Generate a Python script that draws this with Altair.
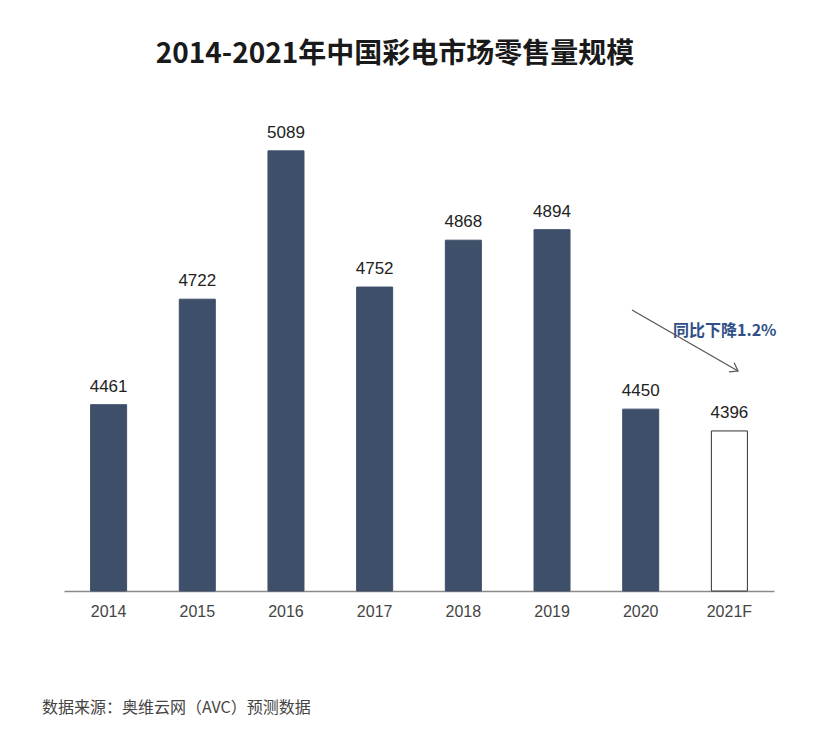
import altair as alt
import pandas as pd

years = ["2014", "2015", "2016", "2017", "2018", "2019", "2020", "2021F"]
sales = [4461, 4722, 5089, 4752, 4868, 4894, 4450, 4396]
title_text = "2014-2021年中国彩电市场零售量规模"
source_text = "数据来源：奥维云网（AVC）预测数据"
note_text = "同比下降1.2%"

df = pd.DataFrame({"year": years, "sales": sales})

W, H = 710, 485
BASE = 4000

x_enc = alt.X("year:N", sort=years,
              scale=alt.Scale(paddingInner=0.594, paddingOuter=0.3),
              axis=alt.Axis(title=None, labelAngle=0, ticks=False, labelFontSize=16,
                            labelColor="#444444", labelPadding=12, labelFont="Liberation Sans",
                            domainColor="#8a8a8a", domainWidth=1.5, grid=False))
y_scale = alt.Scale(domain=[BASE, 5200], zero=False, nice=False)

base = alt.Chart(df)

bars = base.mark_bar(strokeWidth=1).encode(
    x=x_enc,
    y=alt.Y("sales:Q", scale=y_scale, axis=None),
    y2=alt.datum(BASE),
    fill=alt.condition(alt.datum.year == "2021F", alt.value("#ffffff"), alt.value("#3e4f69")),
    stroke=alt.condition(alt.datum.year == "2021F", alt.value("#333333"), alt.value("#3e4f69")),
)

labels = base.mark_text(fontSize=17, dy=-13, baseline="alphabetic", color="#222222",
                        font="Liberation Sans").encode(
    x=alt.X("year:N", sort=years),
    y=alt.Y("sales:Q", scale=y_scale),
    text=alt.Text("sales:Q", format="d"),
)

title = alt.Chart(pd.DataFrame({"t": [title_text]})).mark_text(
    fontSize=28, fontWeight="bold", font="Noto Sans CJK SC", color="#1a1a1a",
    align="center", baseline="middle").encode(
    x=alt.value(331), y=alt.value(-51), text="t:N")

footer = alt.Chart(pd.DataFrame({"t": [source_text]})).mark_text(
    fontSize=16, font="Noto Sans CJK SC", color="#444444",
    align="left", baseline="middle").encode(
    x=alt.value(-22), y=alt.value(602), text="t:N")

note = alt.Chart(pd.DataFrame({"t": [note_text]})).mark_text(
    fontSize=16, fontWeight="bold", font="Noto Sans CJK SC", color="#2f4f86",
    align="left", baseline="middle").encode(
    x=alt.value(609), y=alt.value(225), text="t:N")

arrow_line = alt.Chart(pd.DataFrame({"a": [0]})).mark_rule(color="#555555", strokeWidth=1.2).encode(
    x=alt.value(568), y=alt.value(204), x2=alt.value(674), y2=alt.value(265))

arrow_head = alt.Chart(pd.DataFrame({"a": [0]})).mark_point(
    shape="M -1 -0.7 L 0 0 L -1 0.7", filled=False, color="#555555", strokeWidth=1.2,
    size=220, angle=30, opacity=1).encode(
    x=alt.value(674), y=alt.value(265))

chart = alt.layer(bars, labels, title, footer, note, arrow_line, arrow_head).properties(
    width=W, height=H,
    autosize=alt.AutoSizeParams(type="none"),
    padding={"left": 56, "top": 98, "right": 42, "bottom": 133},
    background="#ffffff",
).configure_view(stroke=None)

chart.save("out.html", embed_options={"renderer": "svg", "actions": False})
